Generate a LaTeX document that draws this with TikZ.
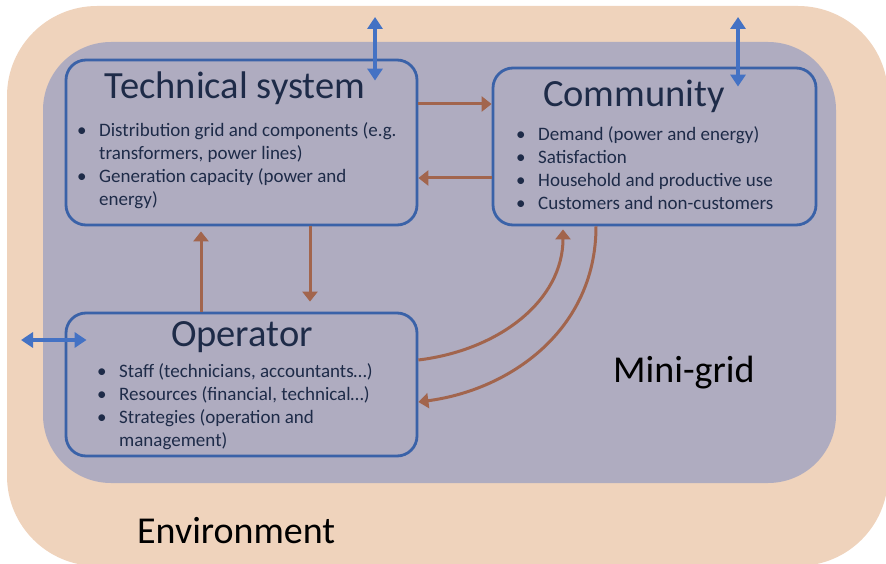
\documentclass[tikz,border=0pt]{standalone}
\usepackage{fontspec}
\setmainfont{Carlito}
\usetikzlibrary{arrows.meta,positioning,calc}

\definecolor{envfill}{HTML}{EFD3BC}
\definecolor{gridfill}{HTML}{AFACC0}
\definecolor{boxline}{HTML}{3A62A8}
\definecolor{navy}{HTML}{1E2B48}
\definecolor{rust}{HTML}{A2654D}
\definecolor{linkblue}{HTML}{4472C4}

\newcommand{\bul}{\makebox[22pt][l]{\textbullet}}
\newcommand{\ind}{\hspace*{22pt}}

\begin{document}
\begin{tikzpicture}[
    x=1pt, y=-1pt,
    area/.style ={rectangle, inner sep=0pt, draw=none},
    block/.style={rectangle, draw=boxline, line width=2.8pt,
                  rounded corners=20pt, inner sep=0pt},
    title/.style={anchor=base, text=navy, inner sep=0pt,
                  font=\fontsize{38.5}{42}\selectfont},
    items/.style={anchor=north west, align=left, text=navy, inner sep=0pt,
                  font=\fontsize{19}{23}\selectfont},
    label/.style={anchor=base west, inner sep=0pt,
                  font=\fontsize{38}{42}\selectfont},
    flow/.style ={-{Triangle[length=10pt,width=15pt]}, draw=rust, line width=3pt},
    link/.style ={{Triangle[length=12pt,width=15pt]}-{Triangle[length=12pt,width=15pt]},
                  draw=linkblue, line width=3.5pt}
]
\useasboundingbox (0,0) rectangle (886,564);

%–––– ENVIRONMENT / MINI-GRID ––––––––––––––––––––––
\node (env)  [area, fill=envfill, rounded corners=90pt,
              minimum width=881pt, minimum height=560pt] at (447.5,286) {};
\node (grid) [area, fill=gridfill, rounded corners=68pt,
              minimum width=793pt, minimum height=441pt] at (439.5,262.5) {};

\node (envlbl)  [label] at (137,543) {Environment};
\node (gridlbl) [label] at (613,382) {Mini-grid};

%–––– BLOCKS ––––––––––––––––––––––––––––––––––––––––
\node (tech) [block, minimum width=351pt, minimum height=165pt] at (241.5,142.5) {};
\node (comm) [block, minimum width=323pt, minimum height=157pt] at (654.5,146.5) {};
\node (op)   [block, minimum width=351pt, minimum height=143pt] at (241.5,384.5) {};

\node (techttl) [title] at ($(tech.north)+(-6.5,40)$) {Technical system};
\node (commttl) [title] at ($(comm.north)+(-20.5,40)$) {Community};
\node (opttl)   [title] at ($(op.north)+(0.5,35)$)     {Operator};

\node (techlist) [items] at (77,122)
  {\bul Distribution grid and components (e.g.\\
   \ind transformers, power lines)\\
   \bul Generation capacity (power and\\
   \ind energy)};
\node (commlist) [items] at (516,126)
  {\bul Demand (power and energy)\\
   \bul Satisfaction\\
   \bul Household and productive use\\
   \bul Customers and non-customers};
\node (oplist) [items] at (97,363)
  {\bul Staff (technicians, accountants…)\\
   \bul Resources (financial, technical…)\\
   \bul Strategies (operation and\\
   \ind management)};

%–––– FLOWS INSIDE THE MINI-GRID ––––––––––––––––––––
\draw[flow] ([yshift=38.5]tech.east) coordinate (t1) -- (t1 -| comm.west);
\draw[flow] ([yshift=-31.5]comm.west) coordinate (c1) -- (c1 -| tech.east);
\draw[flow, shorten >=10pt] ([xshift=68.5]tech.south) -- ([xshift=68.5]op.north);
\draw[flow, shorten >=5pt]  ([xshift=-40.5]op.north) -- ([xshift=-40.5]tech.south);

\draw[flow, shorten >=3pt] ([yshift=24.5]op.east)
  .. controls (500,350) and (563,300) .. ([xshift=-91.5]comm.south);
\draw[flow] ([xshift=-58.5]comm.south)
  .. controls (596,330) and (510,390) .. ([yshift=-17.5]op.east);

%–––– LINKS TO THE ENVIRONMENT ––––––––––––––––––––––
\coordinate (techenv) at (375,17);
\coordinate (commenv) at (738,17);
\coordinate (openv)   at (21,340);

\draw[link] (techenv) -- ([xshift=133.5,yshift=-22]tech.north);
\draw[link] (commenv) -- ([xshift=83.5,yshift=-20]comm.north);
\draw[link] (openv)   -- ([xshift=22,yshift=44.5]op.west);
\end{tikzpicture}
\end{document}
